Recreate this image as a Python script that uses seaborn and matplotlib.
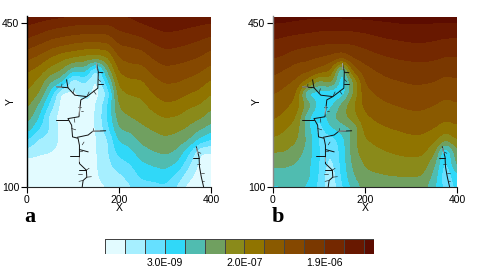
import numpy as np
import matplotlib
matplotlib.use("Agg")
import matplotlib.pyplot as plt
import seaborn as sns

W, H = 491, 269
xs = list(range(0, 401, 25))
ys = [464, 450, 425, 400, 375, 350, 325, 300, 275, 250, 225, 200, 175, 150, 125, 100]

# band position per column (x = 0, 25, ... 400), each from y = 464 down to y = 100
columns_a = [
 [12.6,12.15,11.3,10.25,9.2,8.2,7.5,6.9,6.25,5.6,4.6,2.9,1.55,0.5,0.4,0.4],
 [12.5,11.9,10.9,9.8,8.7,7.6,6.7,6.05,4.9,4.05,3.05,1.8,1.15,0.6,0.4,0.4],
 [12.3,11.6,10.45,9.25,7.9,6.6,5.1,3.7,2.6,1.5,1.9,1.6,1.0,0.6,0.4,0.4],
 [12.2,11.4,10.2,8.9,7.2,6.0,4.2,0.6,0.5,0.5,0.6,0.7,0.7,0.6,0.4,0.4],
 [12.1,11.2,10.0,8.6,6.85,4.3,1.0,0.8,0.4,0.5,0.4,0.4,0.5,0.5,0.4,0.4],
 [12.0,11.1,9.9,8.4,6.5,4.5,2.2,1.5,0.6,0.4,0.4,0.4,0.4,0.5,0.4,0.4],
 [12.0,11.1,9.9,8.4,6.25,1.5,0.6,0.5,0.9,1.0,1.0,0.9,0.9,0.9,0.8,0.7],
 [12.0,11.1,9.9,8.5,6.75,5.2,3.5,2.0,2.8,3.0,2.6,1.8,1.8,1.7,1.6,1.0],
 [12.05,11.5,10.7,9.85,9.0,8.2,7.4,6.7,6.15,5.6,5.0,4.1,3.4,2.5,1.8,1.3],
 [12.1,11.7,10.9,10.0,9.3,8.55,7.8,7.1,6.5,6.0,5.3,4.4,3.7,3.0,2.4,1.9],
 [12.3,12.05,11.15,10.2,9.4,8.6,7.85,7.2,6.7,6.3,5.8,5.25,4.6,3.85,3.25,2.55],
 [12.4,12.3,11.55,10.8,10.05,9.35,8.65,8.05,7.35,6.7,6.1,5.5,4.95,4.15,3.4,2.6],
 [12.6,12.5,11.85,11.15,10.45,9.75,9.1,8.5,7.85,7.05,6.4,5.8,5.2,4.4,3.6,2.85],
 [12.6,12.45,11.75,11.05,10.35,9.65,9.05,8.4,7.7,6.95,6.25,5.55,4.85,3.9,2.8,1.85],
 [12.55,12.3,11.55,10.85,10.15,9.45,8.75,8.05,7.2,6.5,5.85,5.05,3.3,2.3,1.4,0.6],
 [12.5,12.15,11.35,10.6,9.9,9.15,8.45,7.7,6.95,6.2,5.2,3.6,1.0,0.7,0.5,0.5],
 [12.4,12.0,11.05,10.2,9.4,8.6,7.8,7.05,6.25,5.5,4.5,2.85,0.9,0.8,0.7,0.7],
]
columns_b = [
 [13.3,13.05,12.27,11.62,11.03,10.34,9.67,9.04,8.59,8.15,7.54,6.8,6.05,5.17,4.7,3.8],
 [13.4,12.95,12.1,11.4,10.8,9.95,9.25,8.7,8.27,7.75,7.1,6.55,5.98,5.2,4.6,4.0],
 [13.3,12.8,11.95,11.2,10.3,9.5,8.8,8.1,7.6,7.0,6.5,6.1,5.5,4.95,4.6,4.1],
 [13.2,12.7,11.85,11.0,10.2,9.3,7.5,3.5,5.6,4.2,4.4,4.8,4.6,4.3,4.3,3.9],
 [13.2,12.6,11.7,10.9,9.9,8.7,5.5,3.5,3.5,2.9,2.4,2.8,3.0,3.0,2.9,2.7],
 [13.2,12.55,11.65,10.75,9.6,8.0,6.5,3.0,3.6,4.7,3.8,2.3,2.0,1.5,1.0,1.2],
 [13.2,12.55,11.65,10.75,9.0,3.5,3.0,3.2,5.3,5.6,4.5,3.5,3.3,3.3,3.2,2.8],
 [13.2,12.6,11.7,10.85,10.0,8.5,5.8,6.0,6.9,6.6,5.0,5.6,5.6,5.3,4.9,4.4],
 [13.25,12.7,11.85,11.1,10.4,9.6,9.1,8.7,8.3,7.8,7.4,6.9,6.5,6.1,5.8,5.3],
 [13.3,12.8,12.05,11.35,10.7,10.05,9.5,9.05,8.7,8.2,7.7,7.2,6.8,6.3,5.9,5.35],
 [13.35,12.9,12.2,11.55,10.9,10.35,9.8,9.35,8.9,8.45,7.95,7.45,7.0,6.5,6.0,5.4],
 [13.4,13.0,12.3,11.65,11.05,10.5,9.95,9.5,9.05,8.6,8.1,7.6,7.15,6.6,6.05,5.45],
 [13.4,13.05,12.4,11.76,11.13,10.6,10.1,9.65,9.2,8.75,8.25,7.75,7.25,6.7,6.1,5.5],
 [13.4,13.05,12.4,11.8,11.2,10.6,10.1,9.65,9.2,8.75,8.25,7.75,7.2,6.6,6.0,5.4],
 [13.35,13.0,12.3,11.7,11.1,10.5,10.0,9.5,9.0,8.5,8.0,7.2,6.3,5.3,4.7,4.2],
 [13.3,12.95,12.2,11.5,10.9,10.3,9.7,9.2,8.7,8.2,7.5,6.0,2.6,2.4,2.0,2.5],
 [13.3,13.0,12.15,11.5,10.9,10.35,9.85,9.35,8.9,8.4,7.8,7.0,5.85,5.35,3.8,3.1],
]
band_colors = ['#e2fbff','#a6efff','#66e0ff','#30d8f8','#50bcb0','#70a060','#8a8a1a',
               '#907400','#8a5a00','#854800','#7a3800','#742800','#681800','#5c0c00']
cbar_labels = ['3.0E-09', '2.0E-07', '1.9E-06']
cbar_label_bands = [3, 7, 11]

tree_paths = [
 [(120,100),(122,114),(130,121),(129,136),(114,150),(114,189),(111,204),(99,207),(97,232),
  (89,246),(113,250),(117,286),(130,293),(154,311),(155,346),(151,364)],
 [(129,136),(112,136)], [(64,244),(89,244)], [(93,166),(114,166)], [(114,180),(133,175)],
 [(109,206),(133,211),(143,219),(171,220)], [(64,314),(89,312),(104,296),(130,293)],
 [(86,329),(89,312)], [(154,320),(165,320)], [(155,345),(165,344)],
 [(368,186),(374,164),(375,143),(379,121),(384,100)], [(361,161),(374,161)],
]
twig_paths = [
 [(100,300),(103,310)], [(130,293),(135,303)], [(145,305),(150,298)], [(117,270),(110,270)],
 [(117,262),(122,262)], [(97,225),(106,222)], [(114,175),(121,176)], [(122,114),(113,112)],
 [(130,121),(140,122)], [(129,136),(135,140)], [(120,128),(110,128)], [(155,330),(160,325)],
 [(371,175),(378,172)], [(375,150),(370,150)], [(378,130),(384,130)], [(380,112),(385,112)],
 [(143,219),(143,226)], [(75,312),(76,320)], [(103,246),(104,238)], [(120,190),(124,196)],
]
gray_paths = [
 [(152,352),(151,364)], [(64,314),(75,313)], [(113,255),(115,272)], [(114,155),(114,165)],
 [(143,219),(158,220)], [(369,183),(371,172)],
]

sns.set_theme(style="ticks")
plt.rcParams['font.family'] = ['Liberation Sans', 'DejaVu Sans']
palette = sns.color_palette(band_colors)

fig = plt.figure(figsize=(W/100, H/100), dpi=100, facecolor='white')

def place(l, t, r, b):
    return fig.add_axes([l/W, 1-b/H, (r-l)/W, (b-t)/H])

def soften(columns):
    z = np.array(columns, dtype=float).T[::-1]
    y0 = np.array(ys[::-1], dtype=float)
    x0 = np.array(xs, dtype=float)
    xf = np.linspace(0, 400, 161)
    yf = np.linspace(100, 464, 147)
    z = np.array([np.interp(xf, x0, row) for row in z])
    z = np.array([np.interp(yf, y0, col) for col in z.T]).T
    t = np.arange(-6, 7)
    k = np.exp(-0.5*(t/2.5)**2)
    k /= k.sum()
    def blur(a):
        return np.convolve(np.pad(a, 6, mode='edge'), k, mode='valid')
    z = np.apply_along_axis(blur, 0, z)
    z = np.apply_along_axis(blur, 1, z)
    return xf, yf, z

def panel(box, columns, letter, letter_x, left_color):
    ax = place(*box)
    xf, yf, z = soften(columns)
    ax.contourf(xf, yf, z, levels=np.arange(0, 15), colors=palette, extend='both')
    for group, col, lw in ((tree_paths, '#111111', 0.7), (twig_paths, '#222222', 0.45), (gray_paths, '#a8a8a8', 0.7)):
        for p in group:
            px, py = zip(*p)
            sns.lineplot(x=list(px), y=list(py), ax=ax, sort=False, estimator=None, color=col,
                         lw=lw, legend=False)
    ax.set_xlim(0, 400)
    ax.set_ylim(100, 464)
    ax.set_xticks([0, 200, 400])
    ax.set_yticks([100, 450])
    ax.tick_params(length=4, width=0.8, pad=1.5, labelsize=7.5, color='black', labelcolor='black')
    ax.spines['left'].set_linewidth(1.0)
    ax.spines['left'].set_color(left_color)
    ax.spines['bottom'].set_linewidth(0.8)
    for s in ('top', 'right'):
        ax.spines[s].set_visible(False)
    ax.set_xlabel('X', fontsize=7.5, labelpad=-1, color='black')
    ax.set_ylabel('Y', fontsize=7.5, labelpad=-10, color='black')
    fig.text(letter_x/W, 1-222/H, letter, family='Liberation Serif', weight='bold',
             fontsize=16, color='black', ha='center', va='baseline')

panel((27, 16.5, 211, 187), columns_a, 'a', 30, 'black')
panel((273, 16.5, 457, 187), columns_b, 'b', 278, '#888888')

cax = place(105, 239, 374, 254)
sns.heatmap(np.arange(14).reshape(1, 14), ax=cax, cmap=band_colors, cbar=False,
            linewidths=0.6, linecolor='#444444', vmin=-0.5, vmax=13.5,
            xticklabels=False, yticklabels=False)
cax.set_xlim(0, 13.5)
cax.set_xticks(cbar_label_bands)
cax.set_xticklabels(cbar_labels, fontsize=7.5, color='black')
cax.tick_params(length=0, pad=3, bottom=True)

fig.savefig('out.png', dpi=100)
